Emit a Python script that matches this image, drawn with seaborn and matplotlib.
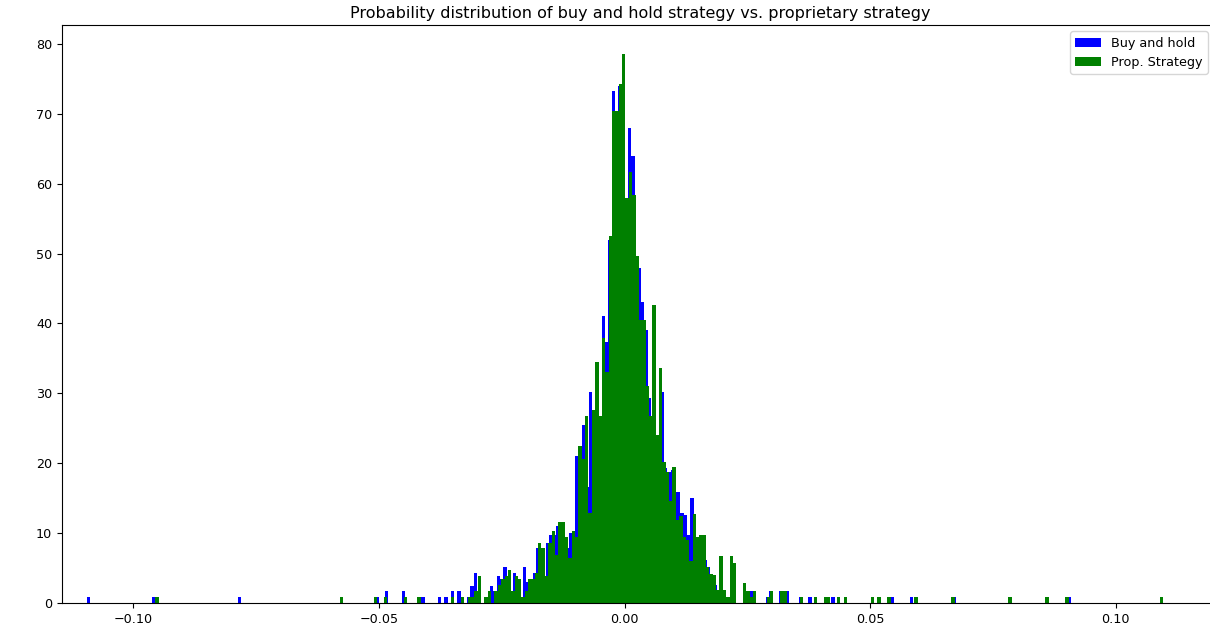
import numpy as np
import pandas as pd
import matplotlib
matplotlib.use('Agg')
import matplotlib.pyplot as plt
from matplotlib.patches import Patch
import seaborn as sns

# 原图字号略小于默认值
plt.rcParams['font.size'] = 9.2

# 直方图参数（密度值按图读出）
n_bins = 300
bh_range = (-0.10949, 0.09085)   # buy and hold 收益范围
ps_range = (-0.09553, 0.10958)   # prop. strategy 收益范围

# buy and hold: 中间连续区段
bh_core_start = -0.0354
bh_core = [
    0, 1.72, 0, 1.72, 0.86, 0, 0.86, 2.5, 4.3, 0,
    0, 0.86, 0.86, 2.5, 1.72, 3.8, 3.4, 5.2, 1.72, 1.72,
    4.3, 3.4, 0.86, 5.2, 3.0, 3.4, 4.3, 7.8, 3.8, 3.8,
    8.6, 9.7, 9.7, 11.0, 11.0, 9.0, 7.8, 10.0, 9.0, 21.0,
    20.0, 25.5, 16.6, 30.2, 27.0, 26.0, 26.0, 41.0, 37.4, 52.0,
    73.2, 70.0, 74.0, 57.0, 57.0, 68.0, 64.0, 40.5, 48.0, 43.0,
    39.0, 29.3, 24.0, 23.0, 20.0, 30.2, 19.3, 18.8, 19.0, 15.9,
    15.9, 12.9, 12.6, 9.7, 15.0, 9.0, 9.0, 9.0, 6.2, 5.2,
    3.5, 2.6, 1.9, 1.6, 1.6, 0.86, 5.0, 0.86, 0, 0,
    1.72, 0.86, 1.72, 0.86, 0, 0, 0, 0.86, 1.72, 0,
    0, 1.72, 1.72, 1.72, 0, 0, 0, 0.86, 0, 0,
    0.86, 0,
]
# buy and hold: 两侧零散值
bh_tail_x = [-0.10911, -0.09568, -0.07838, -0.05029, -0.04825, -0.04500,
             -0.04133, -0.03757, -0.03635,
             0.04227, 0.05422, 0.05829, 0.06704, 0.08556, 0.09024]
bh_tail_h = [0.86, 0.86, 0.86, 0.86, 1.72, 1.72,
             0.86, 0.86, 0.86,
             0.86, 0.86, 0.86, 0.86, 0.86, 0.86]

# prop. strategy: 中间连续区段
ps_core_start = -0.0352
ps_core = [
    0.86, 0, 0, 0.86, 0, 0.86, 0.86, 1.72, 3.8, 0,
    0.86, 1.72, 0, 1.72, 2.6, 3.4, 3.8, 4.7, 1.72, 3.8,
    3.4, 0.86, 1.72, 3.4, 3.4, 4.3, 8.6, 7.8, 3.8, 8.6,
    10.3, 6.9, 11.6, 11.6, 9.5, 6.5, 10.3, 9.5, 22.4, 20.6,
    26.7, 12.9, 27.6, 34.5, 26.7, 37.9, 33.0, 52.5, 70.4, 70.4,
    74.3, 78.6, 57.9, 61.6, 58.4, 49.6, 40.5, 40.5, 31.0, 26.7,
    42.6, 24.0, 33.6, 20.2, 18.8, 14.6, 19.5, 11.9, 12.4, 9.5,
    9.0, 6.0, 12.7, 9.5, 9.7, 9.7, 5.2, 4.2, 4.0, 1.9,
    6.7, 1.9, 0.86, 6.7, 5.7, 0, 0, 2.8, 1.72, 0.86,
    1.72, 0, 0, 0, 0.86, 1.72, 0, 0, 1.72, 1.72,
    0, 0, 0, 0, 0.86,
]
# prop. strategy: 两侧零散值
ps_tail_x = [-0.09527, -0.05772, -0.05090, -0.04887, -0.04480, -0.04215,
             0.03855, 0.04072, 0.04166, 0.04349, 0.04486, 0.05029, 0.05163,
             0.05361, 0.05945, 0.06710, 0.07844, 0.08576, 0.09030, 0.10917]
ps_tail_h = [0.86] * len(ps_tail_x)

labels = ['Buy and hold', 'Prop. Strategy']
colors = ['blue', 'green']


def build(rng, start, core, tail_x, tail_h):
    """把读出的高度放回各自的分箱"""
    edges = np.linspace(rng[0], rng[1], n_bins + 1)
    centers = (edges[:-1] + edges[1:]) / 2
    i0 = np.searchsorted(edges, start) - 1
    df = pd.DataFrame({
        'ret': np.concatenate([centers[i0:i0 + len(core)], tail_x]),
        'dens': np.concatenate([core, tail_h]),
    })
    # seaborn 里 bins 为数组时会和 "auto" 比较，传 list 避免报错
    return edges.tolist(), df


bh_edges, bh_df = build(bh_range, bh_core_start, bh_core, bh_tail_x, bh_tail_h)
ps_edges, ps_df = build(ps_range, ps_core_start, ps_core, ps_tail_x, ps_tail_h)

fig = plt.figure(figsize=(12.1, 6.27), dpi=100)
# 右侧边框在原图中被裁掉，坐标轴略伸出画布
ax = fig.add_axes([62 / 1210, 24 / 627, 1156 / 1210, 578 / 627])

sns.histplot(data=bh_df, x='ret', weights='dens', bins=bh_edges, stat='count',
             color=colors[0], alpha=1, linewidth=0, edgecolor='none', ax=ax)
sns.histplot(data=ps_df, x='ret', weights='dens', bins=ps_edges, stat='count',
             color=colors[1], alpha=1, linewidth=0, edgecolor='none', ax=ax)

ax.set_xlim(-0.1145, 0.1208)
ax.set_ylim(0, 82.7)
ax.set_xlabel('')
ax.set_ylabel('')
ax.spines['right'].set_visible(False)
ax.set_title('Probability distribution of buy and hold strategy vs. proprietary strategy',
             fontsize=11.5, pad=5)

handles = [Patch(facecolor=c, edgecolor='none', label=l) for c, l in zip(colors, labels)]
ax.legend(handles=handles, loc='upper right', bbox_to_anchor=(0.9965, 1.0),
          bbox_transform=ax.transAxes)

fig.savefig('out.png', dpi=100)
